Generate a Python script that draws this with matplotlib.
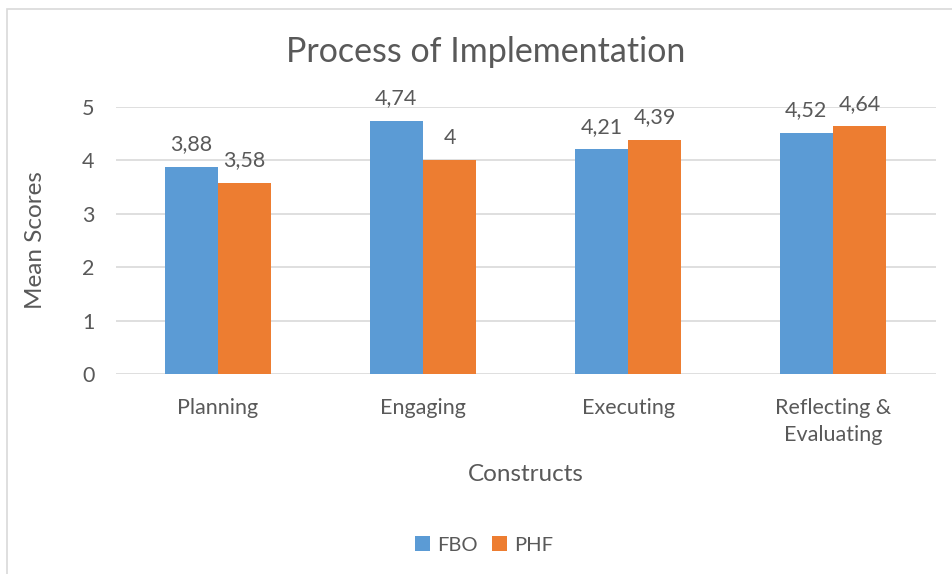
import matplotlib
matplotlib.use("Agg")
import matplotlib.pyplot as plt
import numpy as np
from matplotlib.patches import Rectangle

categories = ["Planning", "Engaging", "Executing", "Reflecting &\nEvaluating"]
fbo = [3.88, 4.74, 4.21, 4.52]
phf = [3.58, 4.00, 4.39, 4.64]
fbo_labels = ["3,88", "4,74", "4,21", "4,52"]
phf_labels = ["3,58", "4", "4,39", "4,64"]
yticks = [0, 1, 2, 3, 4, 5]

plt.rcParams['font.family'] = ['Lato', 'DejaVu Sans']
txt = '#595959'
W, H = 952, 574
fig = plt.figure(figsize=(W/100, H/100), dpi=100)
fig.patches.append(Rectangle((7/W, -0.1), 1.2, 1 - 9/H + 0.1, transform=fig.transFigure,
                             facecolor='none', edgecolor='#d9d9d9', linewidth=1.2, zorder=-1))
ax = fig.add_axes([115.5/W, 1-374/H, (935.5-115.5)/W, (374-107)/H])
ax.patch.set_alpha(0)
x = np.arange(len(categories))
bw = 0.26
b1 = ax.bar(x - bw/2, fbo, bw, color='#5b9bd5', label='FBO', zorder=3)
b2 = ax.bar(x + bw/2, phf, bw, color='#ed7d31', label='PHF', zorder=3)
for rect, lab in zip(b1, fbo_labels):
    ax.annotate(lab, (rect.get_x()+rect.get_width()/2, rect.get_height()), xytext=(0, 9),
                textcoords='offset points', ha='center', va='bottom', fontsize=15.5, color=txt,
                annotation_clip=False)
for rect, lab in zip(b2, phf_labels):
    ax.annotate(lab, (rect.get_x()+rect.get_width()/2, rect.get_height()), xytext=(0, 9),
                textcoords='offset points', ha='center', va='bottom', fontsize=15.5, color=txt,
                annotation_clip=False)
ax.set_xlim(-0.5, len(categories)-0.5)
ax.set_ylim(0, 5)
ax.set_yticks(yticks)
ax.set_yticklabels([str(v) for v in yticks], fontsize=15.5, color=txt)
ax.set_xticks(x)
ax.set_xticklabels(categories, fontsize=15.5, color=txt, linespacing=1.45)
ax.tick_params(length=0)
ax.tick_params(axis='y', pad=15)
ax.tick_params(axis='x', pad=17)
ax.grid(axis='y', color='#d9d9d9', linewidth=1.2, zorder=0)
for s in ax.spines.values():
    s.set_visible(False)
ax.set_ylabel('Mean Scores', fontsize=17.5, color=txt, labelpad=26)
ax.set_xlabel('Constructs', fontsize=17.5, color=txt, labelpad=14)
fig.text(486/W, 1-52/H, 'Process of Implementation', ha='center', va='center', fontsize=24.5, color=txt)
fig.legend(handles=[b1, b2], labels=['FBO', 'PHF'], loc='center', bbox_to_anchor=(484/W, 1-545/H),
           ncol=2, frameon=False, fontsize=14.5, labelcolor=txt, handlelength=0.75, handleheight=0.75,
           handletextpad=0.35, columnspacing=0.7)
fig.savefig('out.png', dpi=100)
